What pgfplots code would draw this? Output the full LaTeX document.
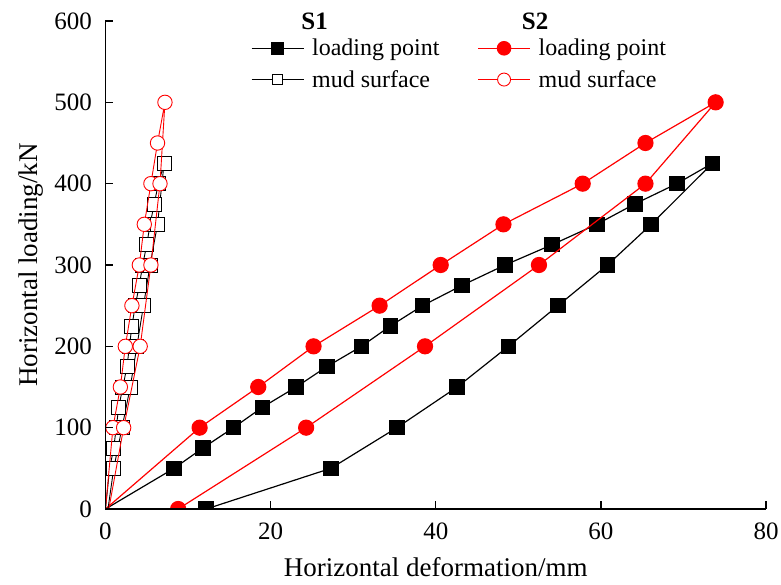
\documentclass[border=0pt]{standalone}
\usepackage{pgfplots}
\pgfplotsset{compat=1.18}
\usepackage{pgfplotstable}
\usepackage{fontspec}
\setmainfont{Liberation Serif}

% S1, loading point: loading branch then unloading branch
\pgfplotstableread{
x y
0 0
8.3 50
11.8 75
15.5 100
19.0 125
23.1 150
26.8 175
31.0 200
34.5 225
38.4 250
43.2 275
48.4 300
54.1 325
59.5 350
64.1 375
69.2 400
73.5 425
66.1 350
60.8 300
54.8 250
48.8 200
42.6 150
35.3 100
27.3 50
12.2 0
}\sOneLoad

% S2, loading point
\pgfplotstableread{
x y
0 0
11.4 100
18.5 150
25.2 200
33.2 250
40.6 300
48.2 350
57.8 400
65.4 450
73.9 500
65.4 400
52.5 300
38.7 200
24.3 100
8.8 0
}\sTwoLoad

% S1, mud surface
\pgfplotstableread{
x y
0 0
0.5 50
1.0 75
1.3 100
1.6 125
2.1 150
2.6 175
2.9 200
3.2 225
3.6 250
4.1 275
4.5 300
5.0 325
5.4 350
5.9 375
6.4 400
7.1 425
6.3 350
5.4 300
4.6 250
3.8 200
3.0 150
2.0 100
1.0 50
0.3 0
}\sOneMud

% S2, mud surface
\pgfplotstableread{
x y
0 0
0.9 100
1.8 150
2.4 200
3.2 250
4.1 300
4.7 350
5.5 400
6.3 450
7.2 500
6.6 400
5.5 300
4.2 200
2.2 100
0.4 0
}\sTwoMud

\begin{document}
\begin{tikzpicture}[x=1pt,y=1pt]
\useasboundingbox (-105.5,-76) rectangle (675.5,509);
\begin{axis}[
  at={(0,0)}, anchor=south west,
  scale only axis, width=660.5pt, height=488pt,
  xmin=0, xmax=80, ymin=0, ymax=600,
  axis x line*=bottom, axis y line*=left,
  xtick={0,20,40,60,80}, ytick={0,100,...,600},
  minor tick num=0,
  tick align=inside, major tick length=8pt,
  axis line style={line width=1.5pt, black},
  tick style={line width=1.3pt, black},
  /pgf/number format/assume math mode=true,
  tick label style={font=\fontsize{25}{30}\selectfont},
  yticklabel style={inner sep=0pt, xshift=-13.5pt},
  xticklabel style={inner sep=0pt, yshift=-14pt},
  xlabel={Horizontal deformation/mm},
  ylabel={Horizontal loading/kN},
  every axis x label/.style={at={(axis description cs:0.5,-0.1393)}, anchor=base, font=\fontsize{27}{32}\selectfont},
  every axis y label/.style={at={(axis description cs:-0.1037,0.5)}, rotate=90, anchor=base, font=\fontsize{27}{32}\selectfont},
  clip mode=individual, clip marker paths=true,
  axis on top=true,
  legend columns=2,
  legend cell align=left,
  legend style={at={(axis description cs:0.2199,0.9631)}, anchor=north west,
    draw=none, fill=none, inner sep=0pt, row sep=13pt,
    font=\fontsize{24}{28}\selectfont,
    nodes={inner xsep=5pt, inner ysep=0pt},
    /tikz/every odd column/.append style={column sep=3pt},
    /tikz/every even column/.append style={column sep=33pt}},
  legend image code/.code={\draw[mark repeat=2,mark phase=2,#1] plot coordinates {(0pt,0pt) (26pt,0pt) (52pt,0pt)};},
]
% loading point curves (no mark at the origin)
\addplot[forget plot, black, line width=1.2pt, mark=square*, mark size=7.2pt, mark phase=2, mark options={solid, fill=black}] table {\sOneLoad};
\addplot[forget plot, red, line width=1.2pt, mark=*, mark size=7.5pt, mark phase=2, mark options={solid, fill=red}] table {\sTwoLoad};
% mud surface curves: lines, then open marks on the non-zero loads
\addplot[forget plot, black, line width=0.9pt] table {\sOneMud};
\addplot[forget plot, only marks, mark=square*, mark size=7pt, mark options={fill=white, draw=black, line width=0.9pt}, restrict y to domain=1:600] table {\sOneMud};
\addplot[forget plot, red, line width=0.9pt] table {\sTwoMud};
\addplot[forget plot, only marks, mark=*, mark size=7.2pt, mark options={fill=white, draw=red, line width=0.9pt}, restrict y to domain=1:600] table {\sTwoMud};

% legend
\addlegendimage{black, line width=1.2pt, mark=square*, mark size=5.7pt, mark options={fill=black}}
\addlegendentry{loading point}
\addlegendimage{red, line width=1.2pt, mark=*, mark size=6.7pt, mark options={fill=red}}
\addlegendentry{loading point}
\addlegendimage{black, line width=0.9pt, mark=square*, mark size=5pt, mark options={fill=white, draw=black}}
\addlegendentry{mud surface}
\addlegendimage{red, line width=0.9pt, mark=*, mark size=6.5pt, mark options={fill=white, draw=red}}
\addlegendentry{mud surface}

\node[anchor=base west, font=\fontsize{25}{30}\selectfont\bfseries] at (axis cs:23.3,589.8) {S1};
\node[anchor=base west, font=\fontsize{25}{30}\selectfont\bfseries] at (axis cs:50.0,589.8) {S2};
\end{axis}
\end{tikzpicture}
\end{document}
